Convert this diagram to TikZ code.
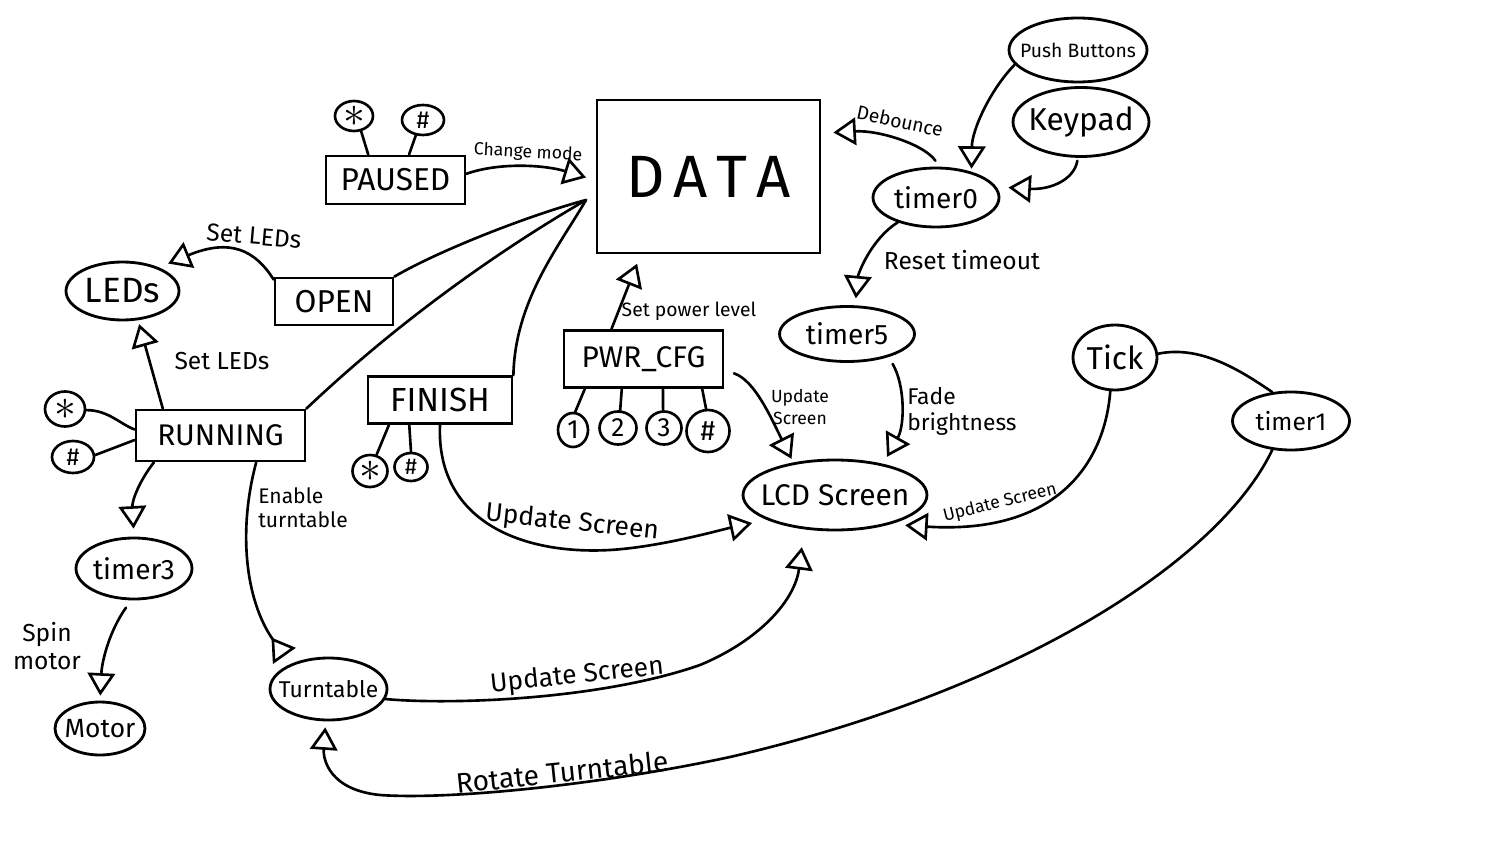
\documentclass[tikz,border=0pt]{standalone}
\usepackage{fontspec}
\setmainfont{Fira Sans}
\usetikzlibrary{arrows.meta,shapes.geometric}
\newcommand{\fsz}[2]{\fontsize{#1}{#2}\selectfont}
\newcommand{\zb}[1]{\makebox[0pt]{#1}}
\begin{document}
\begin{tikzpicture}[x=0.02cm,y=-0.02cm,
  box/.style={draw, rectangle, line width=1.6pt, inner sep=0pt},
  oval/.style={draw, ellipse, line width=1.6pt, inner sep=0pt},
  key/.style={draw, ellipse, line width=1.5pt, inner sep=0pt},
  con/.style={line width=1.5pt, line cap=round},
  arr/.style={con, -{Triangle[open,length=0.45cm,width=0.55cm]}},
  rarr/.style={con, -{Triangle[open,reversed,length=0.45cm,width=0.55cm]}},
  lbl/.style={inner sep=0pt}
]
\useasboundingbox (0,0) rectangle (1500,858);

% boxes
\node[box, minimum width=4.46cm, minimum height=3.06cm, font=\fsz{34}{34}] (data) at (708.5,176.5) {D\hspace{5pt}A\hspace{5pt}T\hspace{5pt}A};
\node[box, minimum width=2.78cm, minimum height=0.96cm, font=\fsz{18}{18}] (paused) at (395.5,180) {PAUSED};
\node[box, minimum width=2.36cm, minimum height=0.94cm, font=\fsz{18}{18}] (open) at (334,301.5) {OPEN};
\node[box, minimum width=3.38cm, minimum height=1.02cm, font=\fsz{17}{17}] (running) at (220.5,435.5) {RUNNING};
\node[box, minimum width=2.88cm, minimum height=0.94cm, font=\fsz{19}{19}] (finish) at (440,400) {FINISH};
\node[box, minimum width=3.18cm, minimum height=1.14cm, font=\fsz{17}{17}] (pwr) at (643.5,359) {PWR\_CFG};

% ovals
\node[oval, minimum width=2.26cm, minimum height=1.16cm, font=\fsz{20}{20}] (leds) at (122.5,291) {\zb{LEDs}};
\node[oval, minimum width=2.52cm, minimum height=1.18cm, font=\fsz{16}{16}] (timer0) at (936,197.5) {\zb{timer0}};
\node[oval, minimum width=2.76cm, minimum height=1.28cm, font=\fsz{11}{11}] (pb) at (1078,50) {\zb{Push Buttons}};
\node[oval, minimum width=2.72cm, minimum height=1.38cm, font=\fsz{18}{18}] (keypad) at (1081,122) {\zb{Keypad}};
\node[oval, minimum width=2.70cm, minimum height=1.10cm, font=\fsz{16}{16}] (timer5) at (847,334) {\zb{timer5}};
\node[oval, minimum width=3.68cm, minimum height=1.40cm, font=\fsz{17}{17}] (lcd) at (835,495) {\zb{LCD Screen}};
\node[oval, minimum width=1.68cm, minimum height=1.30cm, font=\fsz{18}{18}] (tick) at (1115,357.5) {\zb{Tick}};
\node[oval, minimum width=2.34cm, minimum height=1.16cm, font=\fsz{14}{14}] (timer1) at (1291,421) {\zb{timer1}};
\node[oval, minimum width=2.32cm, minimum height=1.22cm, font=\fsz{16}{16}] (timer3) at (134,568.5) {\zb{timer3}};
\node[oval, minimum width=1.80cm, minimum height=1.06cm, font=\fsz{15}{15}] (motor) at (100,728.5) {\zb{Motor}};
\node[oval, minimum width=2.34cm, minimum height=1.24cm, font=\fsz{13}{13}] (turnt) at (328.5,689) {\zb{Turntable}};

% key circles
\node[key, minimum width=0.76cm, minimum height=0.60cm] (ps) at (354,116) {\zb{\fsz{26}{26}$\ast$}};
\node[key, minimum width=0.84cm, minimum height=0.60cm, font=\fsz{14}{14}] (ph) at (423,120) {\#};
\node[key, minimum width=0.80cm, minimum height=0.70cm] (rs) at (65,409) {\zb{\fsz{26}{26}$\ast$}};
\node[key, minimum width=0.84cm, minimum height=0.64cm, font=\fsz{14}{14}] (rh) at (73,457) {\#};
\node[key, minimum width=0.70cm, minimum height=0.64cm] (fs) at (370,471) {\zb{\fsz{24}{24}$\ast$}};
\node[key, minimum width=0.66cm, minimum height=0.56cm, font=\fsz{13}{13}] (fh) at (411,467) {\#};
\node[key, minimum width=0.60cm, minimum height=0.68cm, font=\fsz{15}{15}] (k1) at (573,430) {1};
\node[key, minimum width=0.74cm, minimum height=0.66cm, font=\fsz{15}{15}] (k2) at (618,428) {2};
\node[key, minimum width=0.70cm, minimum height=0.66cm, font=\fsz{15}{15}] (k3) at (664,428) {3};
\node[key, minimum width=0.86cm, minimum height=0.84cm, font=\fsz{16}{16}] (kh) at (708,431) {\#};

% DATA fan-out lines
\coordinate (dl) at (586,200);
\draw[con] (dl) .. controls (530,215) and (440,250) .. (open.north east);
\draw[con] (dl) .. controls (500,250) and (400,320) .. (running.north east);
\draw[con] (dl) .. controls (560,245) and (515,300) .. (finish.north east);

% key connectors
\draw[con] (ps.-65) -- (paused.137);
\draw[con] (ph.-115) -- (paused.62);
\draw[con] (rs.-3) .. controls (108,410) and (120,424) .. (running.176);
\draw[con] (rh.5) -- (running.183);
\draw[con] (fs.68) -- (finish.206);
\draw[con] (fh.north) -- (finish.219);
\draw[con] (k1.83) -- (pwr.207);
\draw[con] (k2.83) -- (pwr.234);
\draw[con] (k3.93) -- (pwr.-57);
\draw[con] (kh.95) -- (pwr.-27);

% arrows
\draw[arr, shorten >=0.2cm] (paused.5) .. controls (500,162) and (545,165) .. (data.182);
\draw[arr, shorten >=0.2cm] (open.160) .. controls (255,250) and (230,238) .. (leds.33);
\draw[arr, shorten >=0.08cm] (running.155) -- (leds.-62);
\draw[arr, shorten >=0.16cm] (running.202) .. controls (140,480) and (132,500) .. (timer3.north);
\draw[arr, shorten <=0.18cm, shorten >=0.1cm] (timer3.-95) .. controls (110,630) and (102,660) .. (motor.north);
\draw[rarr, shorten >=0.2cm] (running.-37) .. controls (238,530) and (245,600) .. (turnt.147);
\draw[arr, shorten >=0.36cm] (turnt.-10) .. controls (450,705) and (600,700) .. (700,665) .. controls (760,640) and (795,600) .. (lcd.-132);
\draw[arr, shorten >=0.3cm] (finish.south) .. controls (436,520) and (520,555) .. (610,550) .. controls (660,547) and (720,530) .. (lcd.200);
\draw[arr, shorten >=0.2cm] (pwr.137) -- (data.-131);
\draw[arr, shorten <=0.2cm, shorten >=0.08cm] (pwr.-8) .. controls (755,380) and (772,420) .. (lcd.142);
\draw[arr, shorten <=0.16cm, shorten >=0.16cm] (timer5.-29) .. controls (905,385) and (905,425) .. (lcd.33);
\draw[arr, shorten >=0.14cm] (timer0.-147) .. controls (870,240) and (858,275) .. (timer5.74);
\draw[arr, shorten <=0.14cm, shorten >=0.24cm] (timer0.84) .. controls (925,145) and (880,130) .. (data.21);
\draw[arr, shorten >=0.06cm] (pb.-167) .. controls (990,90) and (972,130) .. (timer0.36);
\draw[arr, shorten <=0.06cm, shorten >=0.24cm] (keypad.-95) .. controls (1074,180) and (1050,190) .. (timer0.10);
\draw[arr, shorten >=0.3cm] (tick.-98) .. controls (1105,460) and (1060,535) .. (lcd.-28);
\draw[con] (tick.5) .. controls (1200,345) and (1240,370) .. (timer1.123);
\draw[arr, shorten >=0.12cm] (timer1.-123) .. controls (1220,560) and (1020,690) .. (730,757) .. controls (600,785) and (450,800) .. (380,795) .. controls (330,790) and (323,760) .. (turnt.-95);

% labels
\node[lbl, rotate=-3, font=\fsz{10}{10}] (lchg) at (528,153) {Change mode};
\node[lbl, rotate=-5, font=\fsz{14}{14}] (lled1) at (254,236) {Set LEDs};
\node[lbl, font=\fsz{14}{14}] (lled2) at (222,361) {Set LEDs};
\node[lbl, anchor=north west, align=left, font=\fsz{12}{14}] (lena) at (258,487) {Enable\\turntable};
\node[lbl, align=center, font=\fsz{14}{16}] (lspin) at (47,646) {Spin\\motor};
\node[lbl, rotate=-6, font=\fsz{15}{15}] (lupd1) at (572,523) {Update Screen};
\node[lbl, rotate=6, font=\fsz{15}{15}] (lupd2) at (577,676) {Update Screen};
\node[lbl, rotate=6, font=\fsz{16}{16}] (lrot) at (562,772) {Rotate Turntable};
\node[lbl, font=\fsz{11}{11}] (lpow) at (689,311) {Set power level};
\node[lbl, align=center, font=\fsz{10}{13}] (lupd3) at (800,407) {Update\\Screen};
\node[lbl, anchor=north west, align=left, font=\fsz{13}{15}] (lfade) at (907,387) {Fade\\brightness};
\node[lbl, font=\fsz{14}{14}] (lreset) at (962,260) {Reset timeout};
\node[lbl, rotate=-12, font=\fsz{11}{11}] (ldeb) at (900,121) {Debounce};
\node[lbl, rotate=14, font=\fsz{10}{10}] (lupd4) at (1000,503) {Update Screen};
\end{tikzpicture}
\end{document}
